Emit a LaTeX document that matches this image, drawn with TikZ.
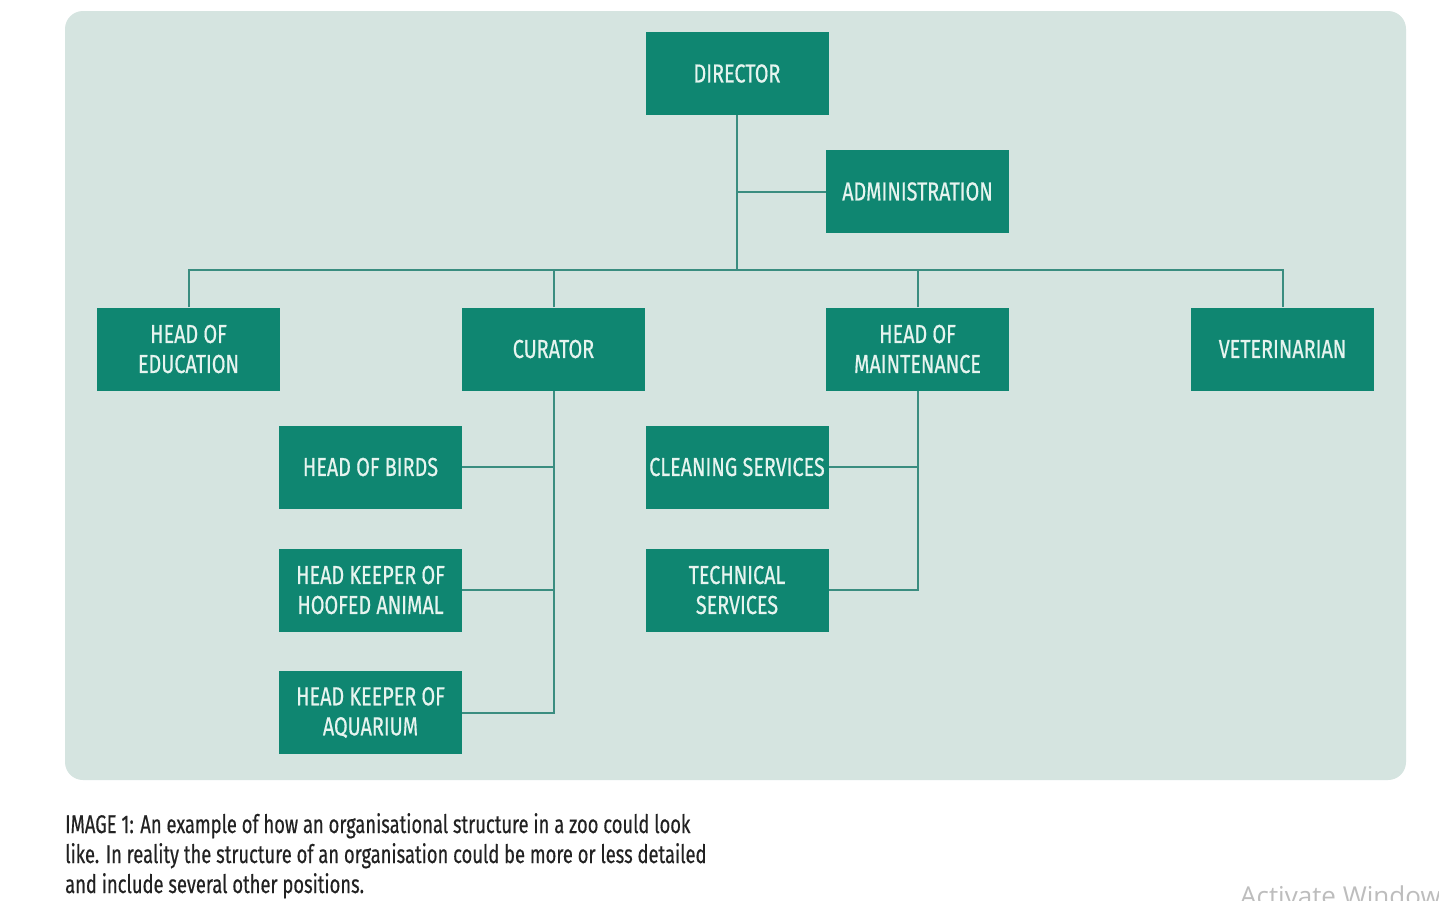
\documentclass[tikz,border=0pt]{standalone}
\usepackage{fontspec}
\setmainfont{Fira Sans}[FakeStretch=0.76,FakeBold=0.5]
\newfontfamily\capfont{Fira Sans}[FakeStretch=0.72,FakeBold=0.4]
\newfontfamily\wmfont{Open Sans}
\definecolor{panel}{HTML}{D5E4E0}
\definecolor{boxc}{HTML}{0F8671}
\definecolor{linec}{HTML}{3A8D80}
\definecolor{boxtext}{HTML}{E6F4EF}
\definecolor{captext}{HTML}{222222}
\definecolor{wmgray}{HTML}{BDBDBD}
\begin{document}
\begin{tikzpicture}[x=1pt,y=-1pt,
  box/.style={fill=boxc, minimum width=183pt, minimum height=83pt, inner sep=0pt,
    text=boxtext, font=\fontsize{26}{30}\selectfont, align=center},
  conn/.style={draw=linec, line width=2pt},
  captxt/.style={anchor=base west, inner sep=0pt, text=captext, font=\capfont\fontsize{25.5}{30}\selectfont}]
\useasboundingbox (0,0) rectangle (1439,900);
\fill[white] (0,0) rectangle (1439,900);
\fill[panel, rounded corners=18pt] (65,11) rectangle (1406,780);

\node[box] (dir) at (737,73.5) {DIRECTOR};
\node[box] (adm) at (917.5,191.5) {ADMINISTRATION};
\node[box] (edu) at (188.5,349) {HEAD OF\\EDUCATION};
\node[box] (cur) at (553.5,349) {CURATOR};
\node[box] (mnt) at (917.5,349) {HEAD OF\\MAINTENANCE};
\node[box] (vet) at (1282.5,349) {VETERINARIAN};
\node[box] (birds) at (370.5,467) {HEAD OF BIRDS};
\node[box] (clean) at (737,467) {CLEANING SERVICES};
\node[box] (hoof) at (370.5,590) {HEAD KEEPER OF\\HOOFED ANIMAL};
\node[box] (tech) at (737,590) {TECHNICAL\\SERVICES};
\node[box] (aqua) at (370.5,712.5) {HEAD KEEPER OF\\AQUARIUM};

\coordinate (bus) at (737,270);
\draw[conn] (dir.south) -- (bus);
\draw[conn] (dir.south |- adm.west) -- (adm.west);
\draw[conn] (edu.north) -- (edu.north |- bus) -- (vet.north |- bus) -- (vet.north);
\draw[conn] (cur.north) -- (cur.north |- bus);
\draw[conn] (mnt.north) -- (mnt.north |- bus);
\draw[conn] (cur.south) |- (aqua.east);
\draw[conn] (birds.east) -- (birds.east -| cur.south);
\draw[conn] (hoof.east) -- (hoof.east -| cur.south);
\draw[conn] (mnt.south) |- (tech.east);
\draw[conn] (clean.east) -- (clean.east -| mnt.south);

\node[captxt] (cap1) at (65,833) {IMAGE 1: An example of how an organisational structure in a zoo could look};
\node[captxt] (cap2) at (65,863) {like. In reality the structure of an organisation could be more or less detailed};
\node[captxt] (cap3) at (65,893) {and include several other positions.};

\node[anchor=base west, inner sep=0pt, text=wmgray, font=\wmfont\fontsize{26}{30}\selectfont] (wm) at (1240,905) {Activate Windows};
\end{tikzpicture}
\end{document}
